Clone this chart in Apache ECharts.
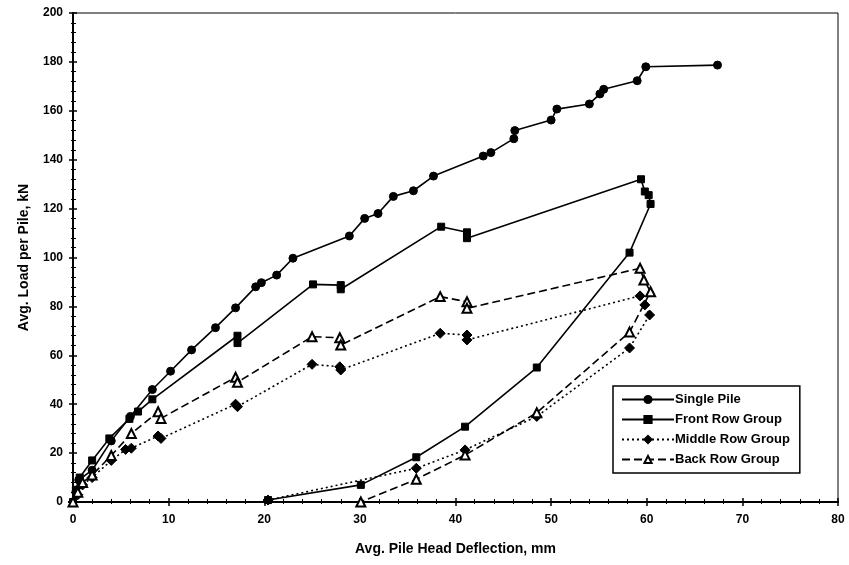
<!DOCTYPE html>
<html>
<head>
<meta charset="utf-8">
<script src="https://cdn.jsdelivr.net/npm/echarts@6/dist/echarts.min.js"></script>
<style>
  html, body { margin: 0; padding: 0; background: #fff; }
  #chart { width: 849px; height: 565px; }
</style>
</head>
<body>
<div id="chart"></div>
<script>
// [deflection mm, load kN]
var singlePile = [
    [0, 0], [0.3, 4], [0.6, 9], [2, 13], [4, 25], [6, 35], [8.3, 46], [10.2, 53.5],
    [12.4, 62.2], [14.9, 71.3], [17, 79.4], [19.1, 88], [19.7, 89.7], [21.3, 92.8],
    [23, 99.7], [28.9, 108.8], [30.5, 116], [31.9, 118], [33.5, 125], [35.6, 127.3],
    [37.7, 133.3], [42.9, 141.5], [43.7, 142.9], [46.1, 148.6], [46.2, 151.9],
    [50, 156.2], [50.6, 160.7], [54, 162.8], [55.1, 166.9], [55.5, 168.8],
    [59, 172.3], [59.9, 178], [67.4, 178.7]
];
var frontRow = [
    [0, 0], [0.3, 5], [0.7, 10], [2, 17], [3.8, 26], [5.9, 34], [6.8, 37], [8.3, 42],
    [17.2, 68], [17.2, 65], [25.1, 89], [28, 88.7], [28, 87], [38.5, 112.6],
    [41.2, 110.3], [41.2, 107.9], [59.4, 132], [59.8, 127], [60.2, 125.5], [60.4, 121.9],
    [58.2, 102], [48.5, 55], [41, 30.8], [35.9, 18.3], [30.1, 7], [20.4, 0.8]
];
var middleRow = [
    [0, 0], [0.5, 3], [1, 7], [2, 10], [4, 17], [5.5, 21.5], [6.1, 22], [8.9, 27],
    [9.2, 26], [17, 40], [17.2, 39], [25, 56.3], [27.9, 55.3], [28, 54], [38.4, 69],
    [41.2, 68.3], [41.2, 66.3], [59.3, 84.3], [59.8, 80.6], [60.3, 76.5],
    [58.2, 63], [48.5, 35], [41, 21.3], [35.9, 13.8], [20.4, 0.8]
];
var backRow = [
    [0, 0], [0.5, 4], [1, 8], [2, 11], [4, 19], [6.1, 28], [8.9, 36.9], [9.2, 34.2],
    [17, 51], [17.2, 49], [25, 67.6], [27.9, 67.2], [28, 64.2], [38.4, 84],
    [41.2, 81.9], [41.2, 79.2], [59.3, 95.6], [59.7, 90.8], [60.4, 86],
    [58.2, 69.5], [48.5, 36.5], [41, 19.2], [35.9, 9.3], [30.1, 0]
];

var chart = echarts.init(document.getElementById('chart'));
var font = 'Liberation Sans, Arial, sans-serif';

function makeAxis(extra) {
    var base = {
        min: 0,
        axisLine: { show: true, onZero: false, lineStyle: { color: '#000', width: 2 } },
        axisTick: { show: true, inside: true, length: 4, lineStyle: { color: '#000', width: 1.5 } },
        minorTick: { show: true, splitNumber: 5, length: 3, lineStyle: { color: '#000', width: 1 } },
        splitLine: { show: false },
        axisLabel: { color: '#000', fontFamily: font, fontSize: 12, fontWeight: 'bold' }
    };
    return Object.assign(base, extra);
}

function makeLine(name, data, symbol, size, type) {
    return {
        name: name,
        type: 'line',
        data: data,
        symbol: symbol,
        symbolSize: size,
        showSymbol: true,
        lineStyle: { color: '#000', width: 1.6, type: type },
        itemStyle: { color: '#000', borderColor: '#000', borderWidth: symbol === 'emptyTriangle' ? 2 : 1 },
        animation: false
    };
}

var option = {
    backgroundColor: '#fff',
    grid: { left: 73, right: 11, top: 13, bottom: 63, show: true, borderColor: '#000', borderWidth: 1 },
    legend: {
        orient: 'vertical',
        left: 613, top: 386,
        itemWidth: 52, itemHeight: 9, itemGap: 7,
        padding: [7, 10, 7, 8],
        borderColor: '#000', borderWidth: 1.5,
        backgroundColor: '#fff',
        textStyle: { color: '#000', fontFamily: font, fontSize: 13, fontWeight: 'bold', padding: [0, 0, 0, -4] },
        data: ['Single Pile', 'Front Row Group', 'Middle Row Group', 'Back Row Group']
    },
    xAxis: [
        makeAxis({
            type: 'value', max: 80, interval: 10,
            name: 'Avg. Pile Head Deflection, mm', nameLocation: 'middle', nameGap: 40,
            nameTextStyle: { color: '#000', fontFamily: font, fontSize: 14, fontWeight: 'bold' },
            axisLabel: { color: '#000', fontFamily: font, fontSize: 12, fontWeight: 'bold', margin: 12 }
        }),
        makeAxis({
            type: 'value', max: 80, interval: 10, position: 'bottom',
            axisTick: { show: true, inside: false, length: 4, lineStyle: { color: '#000', width: 1.5 } },
            minorTick: { show: true, splitNumber: 5, length: 2, lineStyle: { color: '#000', width: 1 } },
            axisLabel: { show: false }
        })
    ],
    yAxis: [
        makeAxis({
            type: 'value', max: 200, interval: 20,
            name: 'Avg. Load per Pile, kN', nameLocation: 'middle', nameGap: 42,
            nameTextStyle: { color: '#000', fontFamily: font, fontSize: 14, fontWeight: 'bold' },
            axisLabel: { color: '#000', fontFamily: font, fontSize: 12, fontWeight: 'bold', margin: 10 }
        }),
        makeAxis({
            type: 'value', max: 200, interval: 20, position: 'left',
            axisTick: { show: true, inside: false, length: 4, lineStyle: { color: '#000', width: 1.5 } },
            minorTick: { show: true, splitNumber: 5, length: 2, lineStyle: { color: '#000', width: 1 } },
            axisLabel: { show: false }
        })
    ],
    series: [
        makeLine('Single Pile', singlePile, 'circle', 8, 'solid'),
        makeLine('Front Row Group', frontRow, 'rect', 7, 'solid'),
        makeLine('Middle Row Group', middleRow, 'diamond', 10, [2, 3]),
        makeLine('Back Row Group', backRow, 'emptyTriangle', 9, [8, 4])
    ]
};

chart.setOption(option);
</script>
</body>
</html>
